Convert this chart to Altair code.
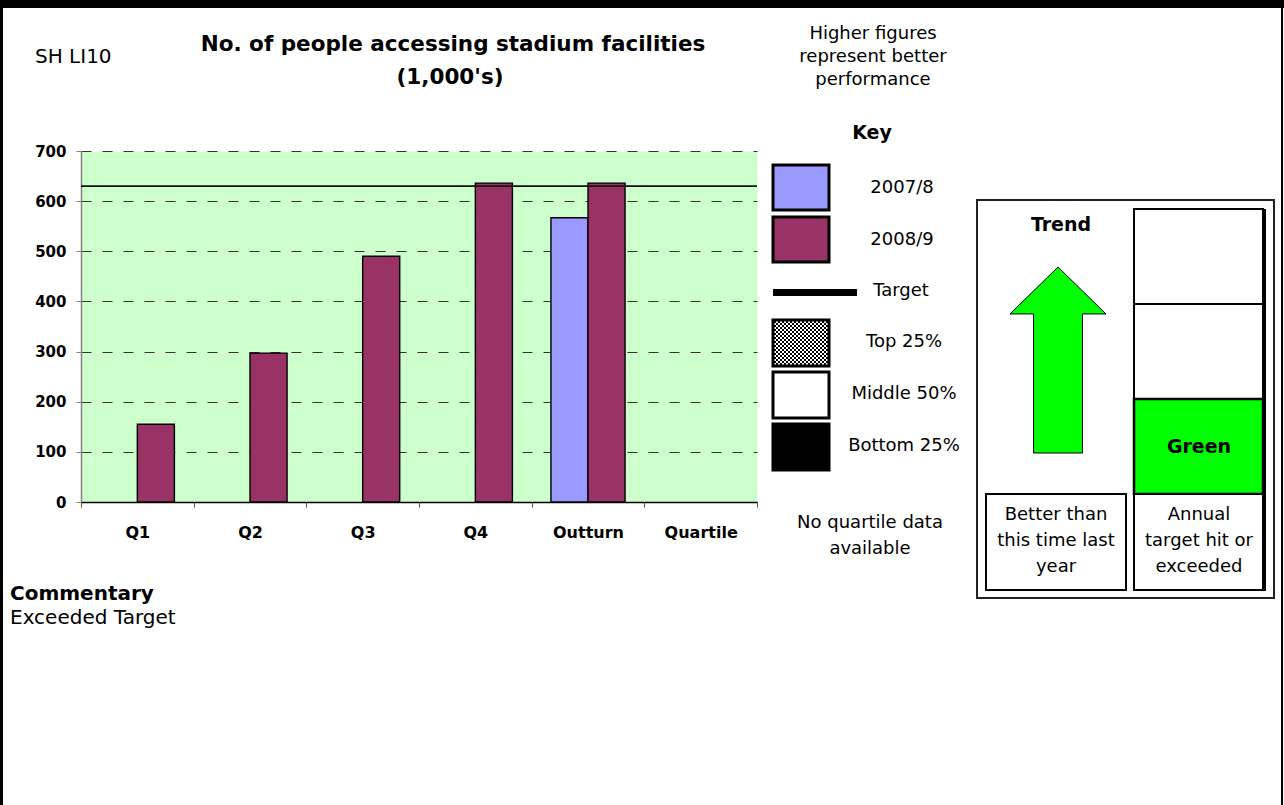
import altair as alt
import pandas as pd

# ---- chart values -------------------------------------------------------
quarters = ["Q1", "Q2", "Q3", "Q4", "Outturn", "Quartile"]
series_names = ["2007/8", "2008/9"]
series_colors = ["#9999FF", "#993366"]
values_0708 = [None, None, None, None, 567, None]
values_0809 = [155, 297, 490, 636, 636, None]
target_value = 630
y_ticks = [0, 100, 200, 300, 400, 500, 600, 700]

rows = []
for q, a, b in zip(quarters, values_0708, values_0809):
    if a is not None:
        rows.append({"quarter": q, "series": "2007/8", "value": a})
    if b is not None:
        rows.append({"quarter": q, "series": "2008/9", "value": b})
bars_df = pd.DataFrame(rows)

# ---- page layout (plot area origin and size in page pixels) -------------
PAGE_W, PAGE_H = 1284, 805
X0, Y0 = 81, 151
PLOT_W, PLOT_H = 676, 351
FONT = "DejaVu Sans"
GREEN = "#00FF00"

one = pd.DataFrame({"k": [0]})


def px(x):
    return x - X0


def py(y):
    return y - Y0


def box(x1, y1, x2, y2, fill="white", stroke="black", sw=2.0):
    return alt.Chart(one).mark_rect(fill=fill, stroke=stroke, strokeWidth=sw).encode(
        x=alt.value(px(x1)), x2=alt.value(px(x2)),
        y=alt.value(py(y1)), y2=alt.value(py(y2)),
    )


def label(x, y, s, size=18, bold=False, align="center"):
    return alt.Chart(pd.DataFrame({"t": [s]})).mark_text(
        font=FONT, fontSize=size, fontWeight="bold" if bold else "normal",
        align=align, baseline="middle", color="black",
    ).encode(x=alt.value(px(x)), y=alt.value(py(y)), text="t:N")


def shape(cx, cy, path, side, fill, stroke="black", sw=0.0):
    return alt.Chart(one).mark_point(
        shape=path, filled=True, fill=fill, stroke=stroke, strokeWidth=sw, opacity=1,
    ).encode(x=alt.value(px(cx)), y=alt.value(py(cy)), size=alt.value(side * side))


# ---- bars and target ----------------------------------------------------
bars = alt.Chart(bars_df).mark_bar(stroke="black", strokeWidth=1.4).encode(
    x=alt.X(
        "quarter:N",
        sort=quarters,
        scale=alt.Scale(domain=quarters, paddingInner=0, paddingOuter=0),
        axis=alt.Axis(
            title=None, labelAngle=0, labelFont=FONT, labelFontSize=16,
            labelFontWeight="bold", labelColor="black", labelPadding=17,
            tickBand="extent", tickSize=5, tickColor="#555555",
            domainColor="black", domainWidth=1.5, grid=False,
        ),
    ),
    xOffset=alt.XOffset(
        "series:N",
        scale=alt.Scale(domain=series_names, paddingInner=0, paddingOuter=0.52),
    ),
    y=alt.Y(
        "value:Q",
        scale=alt.Scale(domain=[0, 700], nice=False),
        axis=alt.Axis(
            title=None, values=y_ticks, labelFont=FONT, labelFontSize=15,
            labelFontWeight="bold", labelColor="black", labelPadding=10,
            tickSize=5, tickColor="#808080", domainColor="#808080",
            domainWidth=1.5, grid=True, gridColor="#333333",
            gridDash=[10, 11], gridWidth=1,
        ),
    ),
    color=alt.Color(
        "series:N",
        scale=alt.Scale(domain=series_names, range=series_colors),
        legend=None,
    ),
)

target = alt.Chart(pd.DataFrame({"target": [target_value]})).mark_rule(
    color="#111111", strokeWidth=1.6
).encode(y="target:Q")

# ---- frame --------------------------------------------------------------
frame = [
    box(0, 0, PAGE_W, 8, fill="black", stroke="black", sw=0),
    box(0, 0, 3, PAGE_H, fill="black", stroke="black", sw=0),
    box(1281, 0, 1283, PAGE_H, fill="black", stroke="black", sw=0),
]

# ---- headings -----------------------------------------------------------
heads = [
    label(35, 57, "SH LI10", size=20, align="left"),
    label(453, 45, "No. of people accessing stadium facilities", size=21.5, bold=True),
    label(450, 78, "(1,000's)", size=21.5, bold=True),
    label(873, 34, "Higher figures", size=18),
    label(873, 57, "represent better", size=18),
    label(873, 80, "performance", size=18),
]

# ---- key ----------------------------------------------------------------
checker = []
cols, rws, cell = 27, 22, 2
half = cols * cell / 2
for r in range(rws):
    for c in range(cols):
        if (r + c) % 2 == 0:
            x = (-half + c * cell) / half
            y = (-rws * cell / 2 + r * cell) / half
            d = cell / half
            checker.append(f"M{x:.4f},{y:.4f}h{d:.4f}v{d:.4f}h{-d:.4f}z")
checker_path = "".join(checker)

key = [
    label(872, 133, "Key", size=19, bold=True),
    box(773, 165, 829, 210, fill=series_colors[0], sw=3),
    label(902, 188, "2007/8"),
    box(773, 217, 829, 262, fill=series_colors[1], sw=3),
    label(902, 240, "2008/9"),
    box(773, 289, 857, 296, fill="black", stroke="black", sw=0),
    label(901, 291, "Target"),
    box(773, 320, 829, 366, fill="white", sw=0),
    shape(801, 343, checker_path, cols * cell, "black"),
    box(773, 320, 829, 366, fill="transparent", sw=3),
    label(904, 342, "Top 25%"),
    box(773, 372, 829, 418, fill="white", sw=3),
    label(904, 394, "Middle 50%"),
    box(773, 424, 829, 470, fill="black", sw=3),
    label(904, 446, "Bottom 25%"),
    label(870, 523, "No quartile data", size=18),
    label(870, 549, "available", size=18),
]

# ---- trend panel --------------------------------------------------------
arrow_path = (
    "M0,-1 L0.516,-0.495 L0.263,-0.495 L0.263,1 "
    "L-0.263,1 L-0.263,-0.495 L-0.516,-0.495 Z"
)
panel = [
    box(977, 200, 1274, 598, fill="white", stroke="#222222", sw=2),
    label(1061, 225, "Trend", size=19, bold=True),
    shape(1058, 360, arrow_path, 186, GREEN, stroke="black", sw=1),
    box(1263, 209, 1266, 591, fill="black", stroke="black", sw=0),
    box(1134, 209, 1263, 304, fill="white", sw=2),
    box(1134, 304, 1263, 399, fill="white", sw=2),
    box(1134, 399, 1263, 494, fill=GREEN, sw=2.5),
    label(1199, 447, "Green", size=19, bold=True),
    box(1134, 494, 1263, 590, fill="white", sw=2),
    box(986, 494, 1126, 590, fill="white", sw=2),
    label(1056, 515, "Better than", size=18),
    label(1056, 541, "this time last", size=18),
    label(1056, 567, "year", size=18),
    label(1199, 515, "Annual", size=18),
    label(1199, 541, "target hit or", size=18),
    label(1199, 567, "exceeded", size=18),
]

# ---- commentary ---------------------------------------------------------
notes = [
    label(10, 594, "Commentary", size=20, bold=True, align="left"),
    label(10, 618, "Exceeded Target", size=20, align="left"),
]

chart = alt.layer(
    bars, target, *frame, *heads, *key, *panel, *notes
).properties(
    width=PLOT_W,
    height=PLOT_H,
    padding={"left": X0, "top": Y0, "right": PAGE_W - X0 - PLOT_W, "bottom": PAGE_H - Y0 - PLOT_H},
    autosize=alt.AutoSizeParams(type="none"),
    background="white",
).configure_view(
    fill="#CCFFCC", stroke="transparent"
)

chart.save("out.html", embed_options={"renderer": "svg", "actions": False})
